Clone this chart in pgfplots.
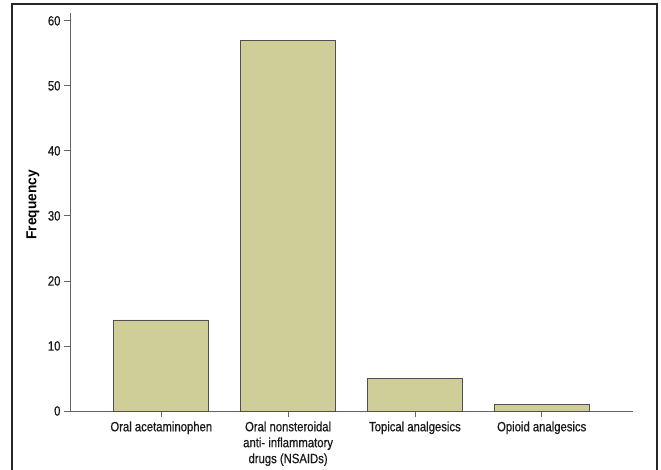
\documentclass[border=0pt]{standalone}
\usepackage{fontspec}
\setmainfont{Liberation Sans}[FakeStretch=0.84, FakeBold=0.6]
\newfontfamily\labfont{Liberation Sans}[FakeStretch=0.95]
\usepackage{pgfplots}
\pgfplotsset{compat=1.18}
\definecolor{barfill}{RGB}{208,206,152}
\definecolor{baredge}{RGB}{80,80,80}
\definecolor{axisgray}{RGB}{100,100,100}
\begin{document}
\begin{tikzpicture}[x=1bp,y=1bp]
\path[use as bounding box] (0,0) rectangle (661,470);
\draw[black!85, line width=1.1bp] (12,0) -- (12,466) -- (657,466) -- (657,0);
\begin{axis}[
  at={(70bp,59bp)}, anchor=south west,
  scale only axis, width=563bp, height=398bp,
  xmin=-0.72, xmax=3.72, ymin=0, ymax=61.2,
  axis x line*=bottom, axis y line*=left,
  axis line style={axisgray, line width=0.8bp, -},
  ybar, bar width=95bp,
  xtick=data,
  xticklabels={Oral acetaminophen, {Oral nonsteroidal\\anti- inflammatory\\drugs (NSAIDs)}, Topical analgesics, Opioid analgesics},
  xticklabel style={align=center, font=\fontsize{13.5}{16}\selectfont, text=black!90, yshift=-1bp},
  ytick={0,10,20,30,40,50,60},
  yticklabel style={font=\fontsize{13.5}{14}\selectfont, text=black!90},
  /pgf/number format/assume math mode=true,
  tick style={axisgray, line width=0.8bp},
  tick align=outside, major tick length=6bp,
  ylabel={\labfont\bfseries Frequency},
  ylabel style={font=\fontsize{14.5}{16}\selectfont, anchor=south},
  every axis y label/.append style={at={(-27bp,206bp)}},
  clip=false,
]
\addplot[fill=barfill, draw=baredge, line width=0.8bp] coordinates {(0,14) (1,57) (2,5) (3,1)};
\end{axis}
\end{tikzpicture}
\end{document}
